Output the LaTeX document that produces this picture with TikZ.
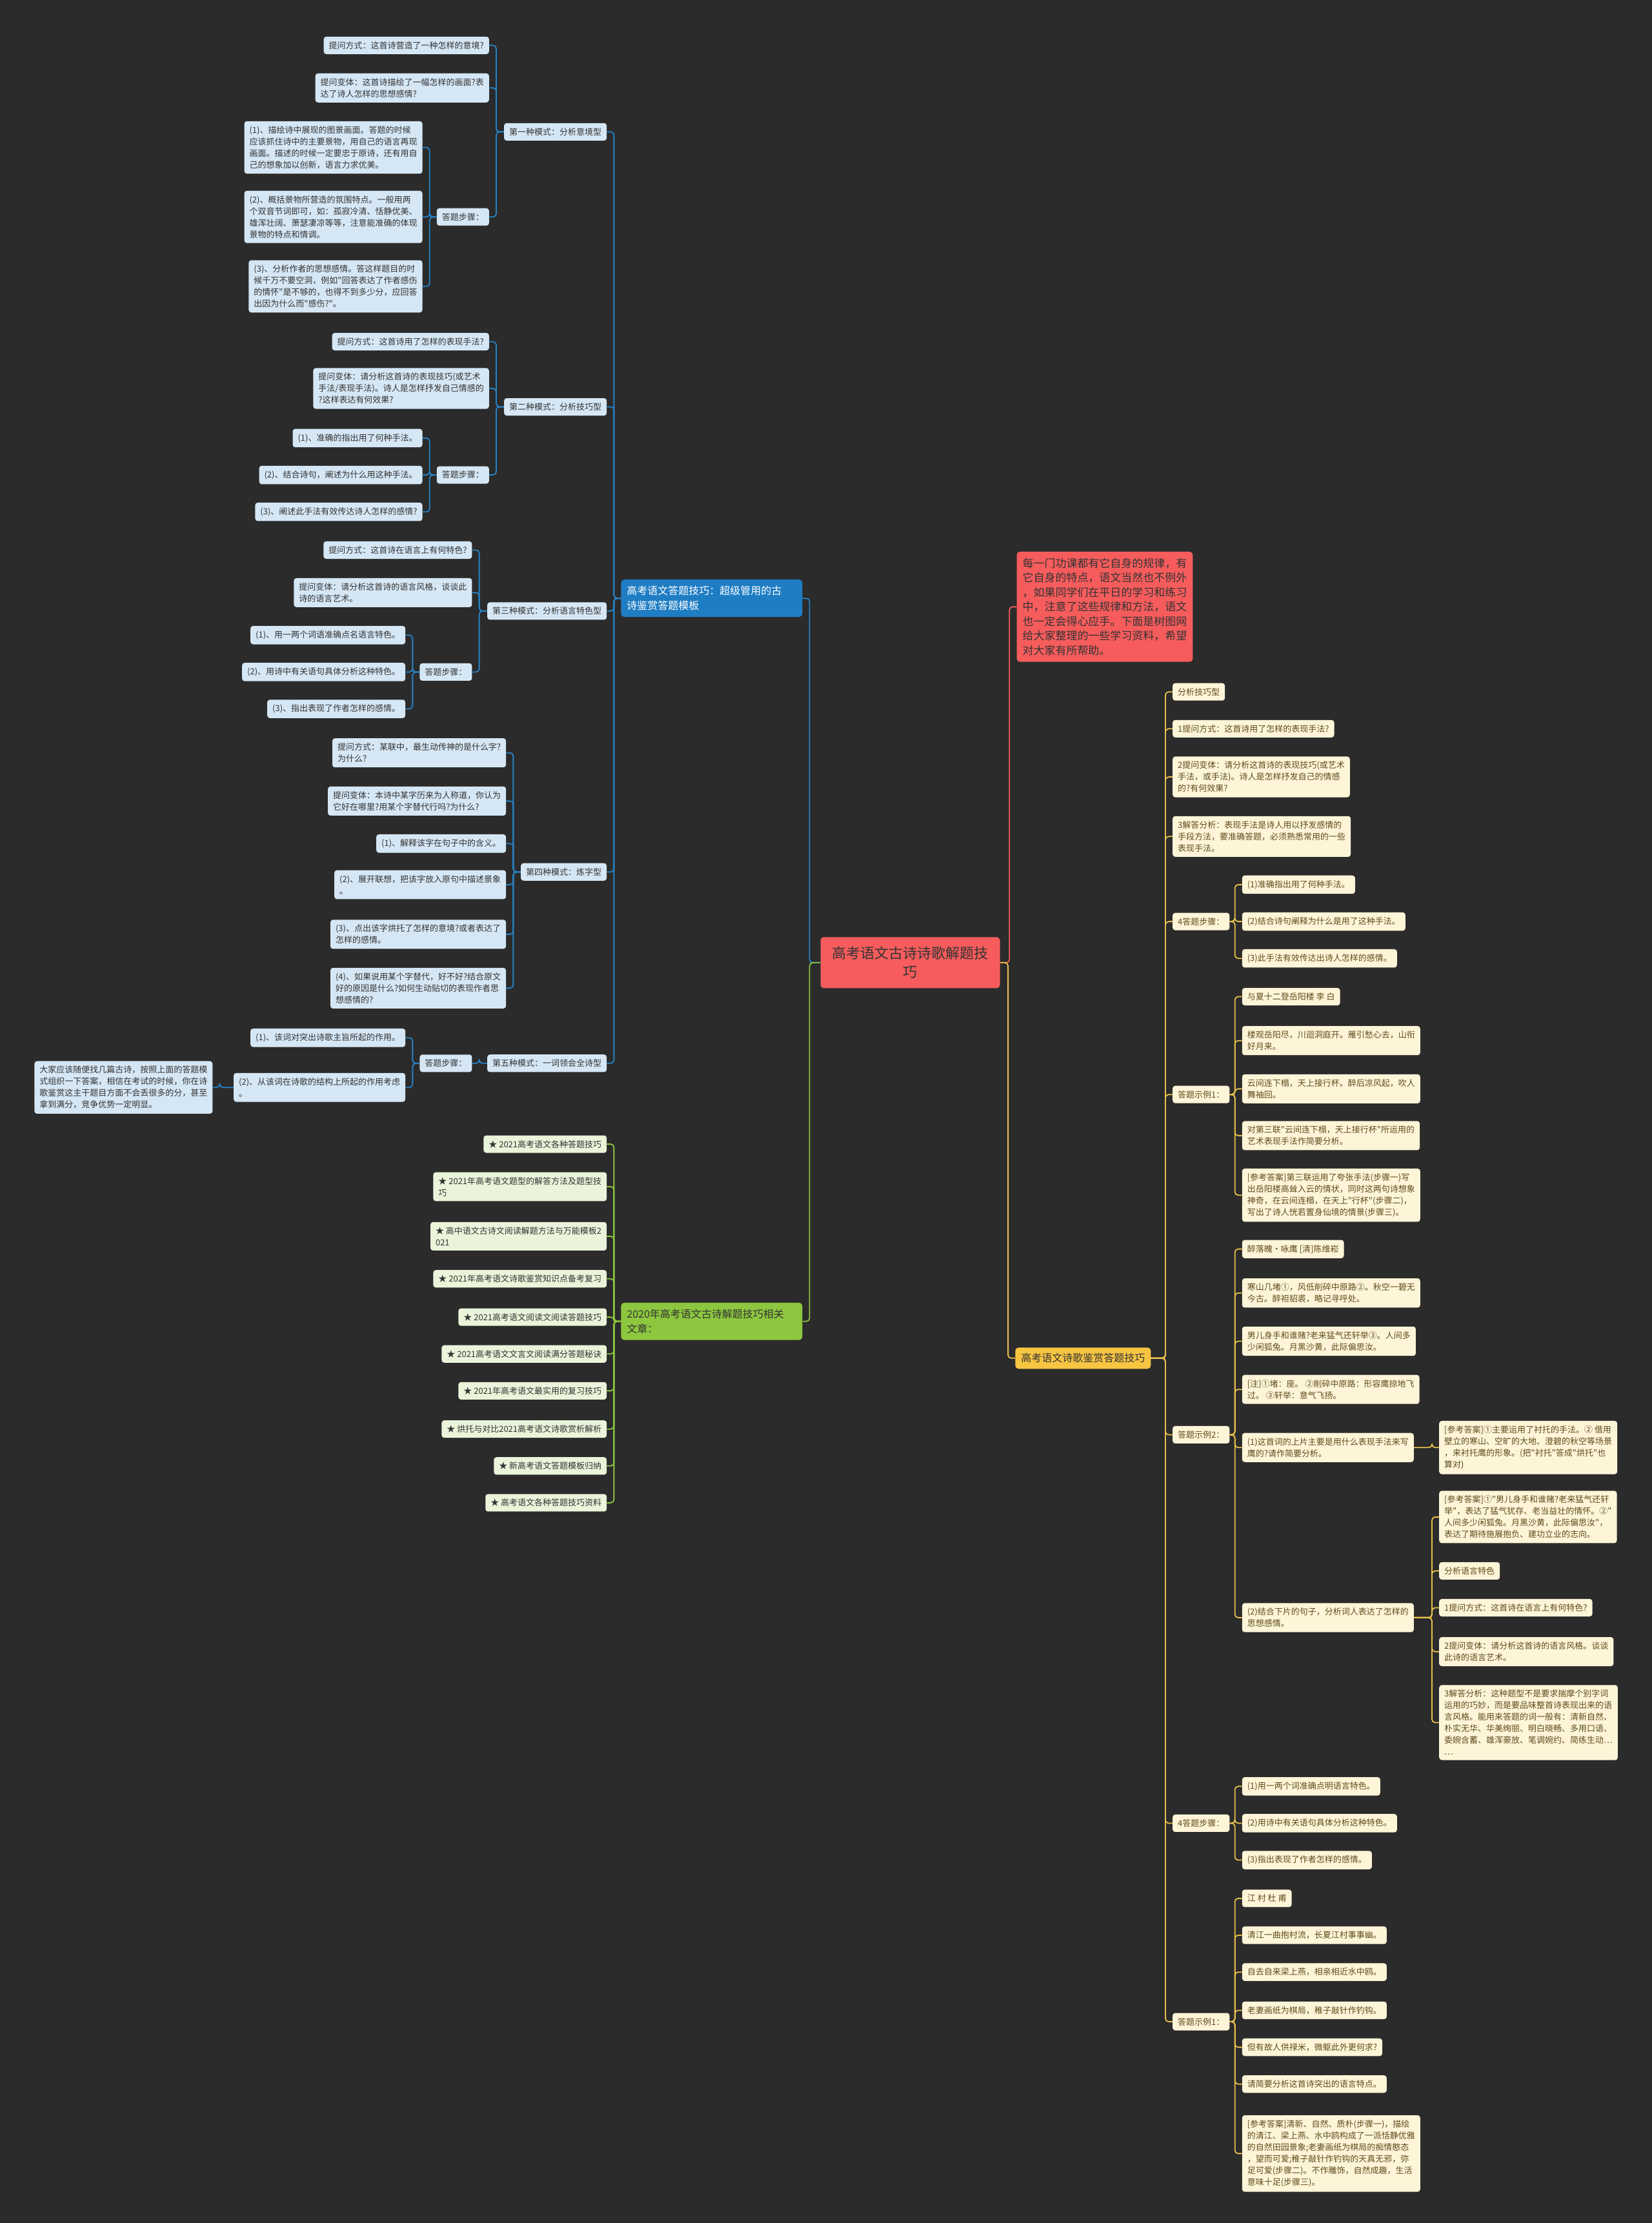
\documentclass[tikz,border=0pt]{standalone}
\usepackage{fontspec}
\setmainfont{Noto Sans CJK SC}[Ligatures=TeXOff]

\definecolor{Canvas}{HTML}{2B2B2B}
\definecolor{Ink}{HTML}{333333}
\definecolor{BlueMain}{HTML}{1F7DC4}
\definecolor{BlueLeaf}{HTML}{D5E7F5}
\definecolor{BlueLine}{HTML}{2784C7}
\definecolor{RootRed}{HTML}{F65C5C}
\definecolor{GreenMain}{HTML}{8DC73F}
\definecolor{GreenLeaf}{HTML}{EAF4DA}
\definecolor{OrangeMain}{HTML}{F8C543}
\definecolor{YellowLeaf}{HTML}{FEF5D8}
\definecolor{YellowLine}{HTML}{E7C04E}
\definecolor{YellowInk}{HTML}{5E4B1C}

\begin{document}
\begin{tikzpicture}
  [x=2.1974pt, y=-2.1974pt,
   box/.style={rounded corners=4pt, inner xsep=8pt, inner ysep=7.5pt, align=left,
     font=\fontsize{13}{18}\selectfont},
   blue leaf/.style={box, fill=BlueLeaf, text=Ink, anchor=east},
   green leaf/.style={box, fill=GreenLeaf, text=Ink, anchor=east},
   yellow leaf/.style={box, fill=YellowLeaf, text=YellowInk, anchor=west},
   branch/.style={rounded corners=5pt, inner xsep=9pt, inner ysep=10pt, align=left,
     font=\fontsize{16}{23}\selectfont},
   to left/.style={to path={-| ([xshift=11pt]\tikztotarget) -- (\tikztotarget)}},
   to right/.style={to path={-| ([xshift=-11pt]\tikztotarget) -- (\tikztotarget)}},
   link/.style={line width=1.8pt, rounded corners=5pt},
   blue edge/.style={link, draw=BlueLine, to left},
   green edge/.style={link, draw=GreenMain, to left},
   red edge/.style={link, draw=RootRed, to right},
   gold edge/.style={link, draw=YellowLine, to right}]

  \fill [Canvas] (0,0) rectangle (1165,1568);
  \useasboundingbox (0,0) rectangle (1165,1568);

  % root
  \node [branch, fill=RootRed, text=Ink, align=center, inner xsep=18pt, inner ysep=15pt,
         font=\fontsize{22}{29}\selectfont] (root) at (642,679) {高考语文古诗诗歌解题技\\巧};

  % left: answer templates
  \node [branch, fill=BlueMain, text=white, anchor=east, text width=263pt] (tpl) at (566,422)
        {高考语文答题技巧：超级管用的古\\诗鉴赏答题模板};

  \node [blue leaf] (m1) at (428,93) {第一种模式：分析意境型};
  \node [blue leaf] (m1q) at (345,32) {提问方式：这首诗营造了一种怎样的意境?};
  \node [blue leaf] (m1v) at (345,62) {提问变体：这首诗描绘了一幅怎样的画面?表\\达了诗人怎样的思想感情?};
  \node [blue leaf] (m1s) at (345,153) {答题步骤：};
  \node [blue leaf] (m1s1) at (298,104) {(1)、描绘诗中展现的图景画面。答题的时候\\应该抓住诗中的主要景物，用自己的语言再现\\画面。描述的时候一定要忠于原诗，还有用自\\己的想象加以创新，语言力求优美。};
  \node [blue leaf] (m1s2) at (298,153) {(2)、概括景物所营造的氛围特点。一般用两\\个双音节词即可，如：孤寂冷清、恬静优美、\\雄浑壮阔、萧瑟凄凉等等，注意能准确的体现\\景物的特点和情调。};
  \node [blue leaf] (m1s3) at (298,202) {(3)、分析作者的思想感情。答这样题目的时\\候千万不要空洞，例如"回答表达了作者感伤\\的情怀"是不够的，也得不到多少分，应回答\\出因为什么而"感伤?"。};

  \node [blue leaf] (m2) at (428,287) {第二种模式：分析技巧型};
  \node [blue leaf] (m2q) at (345,241) {提问方式：这首诗用了怎样的表现手法?};
  \node [blue leaf] (m2v) at (345,274) {提问变体：请分析这首诗的表现技巧(或艺术\\手法/表现手法)。诗人是怎样抒发自己情感的\\?这样表达有何效果?};
  \node [blue leaf] (m2s) at (345,335) {答题步骤：};
  \node [blue leaf] (m2s1) at (298,309) {(1)、准确的指出用了何种手法。};
  \node [blue leaf] (m2s2) at (298,335) {(2)、结合诗句，阐述为什么用这种手法。};
  \node [blue leaf] (m2s3) at (298,361) {(3)、阐述此手法有效传达诗人怎样的感情?};

  \node [blue leaf] (m3) at (428,431) {第三种模式：分析语言特色型};
  \node [blue leaf] (m3q) at (333,388) {提问方式：这首诗在语言上有何特色?};
  \node [blue leaf] (m3v) at (333,418) {提问变体：请分析这首诗的语言风格，谈谈此\\诗的语言艺术。};
  \node [blue leaf] (m3s) at (333,474) {答题步骤：};
  \node [blue leaf] (m3s1) at (286,448) {(1)、用一两个词语准确点名语言特色。};
  \node [blue leaf] (m3s2) at (286,474) {(2)、用诗中有关语句具体分析这种特色。};
  \node [blue leaf] (m3s3) at (286,500) {(3)、指出表现了作者怎样的感情。};

  \node [blue leaf] (m4) at (428,615) {第四种模式：炼字型};
  \node [blue leaf] (m4q) at (357,531) {提问方式：某联中，最生动传神的是什么字?\\为什么?};
  \node [blue leaf] (m4v) at (357,565) {提问变体：本诗中某字历来为人称道，你认为\\它好在哪里?用某个字替代行吗?为什么?};
  \node [blue leaf] (m4a) at (357,595) {(1)、解释该字在句子中的含义。};
  \node [blue leaf] (m4b) at (357,624) {(2)、展开联想，把该字放入原句中描述景象\\。};
  \node [blue leaf] (m4c) at (357,659) {(3)、点出该字烘托了怎样的意境?或者表达了\\怎样的感情。};
  \node [blue leaf] (m4d) at (357,697) {(4)、如果说用某个字替代，好不好?结合原文\\好的原因是什么?如何生动贴切的表现作者思\\想感情的?};

  \node [blue leaf] (m5) at (428,750) {第五种模式：一词领会全诗型};
  \node [blue leaf] (m5s) at (333,750) {答题步骤：};
  \node [blue leaf] (m5s1) at (286,732) {(1)、该词对突出诗歌主旨所起的作用。};
  \node [blue leaf] (m5s2) at (286,767) {(2)、从该词在诗歌的结构上所起的作用考虑\\。};
  \node [blue leaf] (m5note) at (150,767) {大家应该随便找几篇古诗，按照上面的答题模\\式组织一下答案，相信在考试的时候，你在诗\\歌鉴赏这主干题目方面不会丢很多的分，甚至\\拿到满分，竞争优势一定明显。};

  % left: related articles
  \node [branch, fill=GreenMain, text=Ink, anchor=east, text width=263pt] (rel) at (566,932)
        {2020年高考语文古诗解题技巧相关\\文章：};
  \node [green leaf] (rel1) at (428,807) {★ 2021高考语文各种答题技巧};
  \node [green leaf] (rel2) at (428,837) {★ 2021年高考语文题型的解答方法及题型技\\巧};
  \node [green leaf] (rel3) at (428,872) {★ 高中语文古诗文阅读解题方法与万能模板2\\021};
  \node [green leaf] (rel4) at (428,902) {★ 2021年高考语文诗歌鉴赏知识点备考复习};
  \node [green leaf] (rel5) at (428,929) {★ 2021高考语文阅读文阅读答题技巧};
  \node [green leaf] (rel6) at (428,955) {★ 2021高考语文文言文阅读满分答题秘诀};
  \node [green leaf] (rel7) at (428,981) {★ 2021年高考语文最实用的复习技巧};
  \node [green leaf] (rel8) at (428,1008) {★ 烘托与对比2021高考语文诗歌赏析解析};
  \node [green leaf] (rel9) at (428,1034) {★ 新高考语文答题模板归纳};
  \node [green leaf] (rel10) at (428,1060) {★ 高考语文各种答题技巧资料};

  % right: intro
  \node [branch, fill=RootRed, text=Ink, anchor=west, font=\fontsize{17}{22.5}\selectfont] (intro) at (717,428)
        {每一门功课都有它自身的规律，有\\它自身的特点，语文当然也不例外\\，如果同学们在平日的学习和练习\\中，注意了这些规律和方法，语文\\也一定会得心应手。下面是树图网\\给大家整理的一些学习资料，希望\\对大家有所帮助。};

  % right: poetry appreciation
  \node [branch, fill=OrangeMain, text=Ink, anchor=west, inner ysep=9pt] (poem) at (716,958) {高考语文诗歌鉴赏答题技巧};

  \node [yellow leaf] (p1) at (827,488) {分析技巧型};
  \node [yellow leaf] (p2) at (827,514) {1提问方式：这首诗用了怎样的表现手法?};
  \node [yellow leaf] (p3) at (827,548) {2提问变体：请分析这首诗的表现技巧(或艺术\\手法，或手法)。诗人是怎样抒发自己的情感\\的?有何效果?};
  \node [yellow leaf] (p4) at (827,590) {3解答分析：表现手法是诗人用以抒发感情的\\手段方法，要准确答题，必须熟悉常用的一些\\表现手法。};
  \node [yellow leaf] (p5) at (827,650) {4答题步骤：};
  \node [yellow leaf] (p5a) at (876,624) {(1)准确指出用了何种手法。};
  \node [yellow leaf] (p5b) at (876,650) {(2)结合诗句阐释为什么是用了这种手法。};
  \node [yellow leaf] (p5c) at (876,676) {(3)此手法有效传达出诗人怎样的感情。};

  \node [yellow leaf] (p6) at (827,772) {答题示例1：};
  \node [yellow leaf] (p6a) at (876,703) {与夏十二登岳阳楼 李 白};
  \node [yellow leaf] (p6b) at (876,734) {楼观岳阳尽，川迴洞庭开。雁引愁心去，山衔\\好月来。};
  \node [yellow leaf] (p6c) at (876,768) {云间连下榻，天上接行杯。醉后凉风起，吹人\\舞袖回。};
  \node [yellow leaf] (p6d) at (876,801) {对第三联"云间连下榻，天上接行杯"所运用的\\艺术表现手法作简要分析。};
  \node [yellow leaf] (p6e) at (876,843) {[参考答案]第三联运用了夸张手法(步骤一)写\\出岳阳楼高耸入云的情状，同时这两句诗想象\\神奇，在云间连榻，在天上"行杯"(步骤二)，\\写出了诗人恍若置身仙境的情景(步骤三)。};

  \node [yellow leaf] (p7) at (827,1012) {答题示例2：};
  \node [yellow leaf] (p7a) at (876,881) {醉落魄·咏鹰 [清]陈维崧};
  \node [yellow leaf] (p7b) at (876,912) {寒山几堵①，风低削碎中原路②。秋空一碧无\\今古。醉袒貂裘，略记寻呼处。};
  \node [yellow leaf] (p7c) at (876,946) {男儿身手和谁赌?老来猛气还轩举③。人间多\\少闲狐兔。月黑沙黄，此际偏思汝。};
  \node [yellow leaf] (p7d) at (876,980) {[注]①堵：座。 ②削碎中原路：形容鹰掠地飞\\过。 ③轩举：意气飞扬。};
  \node [yellow leaf] (p7e) at (876,1021) {(1)这首词的上片主要是用什么表现手法来写\\鹰的?请作简要分析。};
  \node [yellow leaf] (p7e1) at (1015,1021) {[参考答案]①主要运用了衬托的手法。② 借用\\壁立的寒山、空旷的大地、澄碧的秋空等场景\\，来衬托鹰的形象。(把"衬托"答成"烘托"也\\算对)};
  \node [yellow leaf] (p7f) at (876,1141) {(2)结合下片的句子，分析词人表达了怎样的\\思想感情。};
  \node [yellow leaf] (p7f1) at (1015,1070) {[参考答案]①"男儿身手和谁赌?老来猛气还轩\\举"，表达了猛气犹存、老当益壮的情怀。②"\\人间多少闲狐兔。月黑沙黄，此际偏思汝"，\\表达了期待施展抱负、建功立业的志向。};
  \node [yellow leaf] (p7f2) at (1015,1108) {分析语言特色};
  \node [yellow leaf] (p7f3) at (1015,1134) {1提问方式：这首诗在语言上有何特色?};
  \node [yellow leaf] (p7f4) at (1015,1165) {2提问变体：请分析这首诗的语言风格。谈谈\\此诗的语言艺术。};
  \node [yellow leaf] (p7f5) at (1015,1215) {3解答分析：这种题型不是要求揣摩个别字词\\运用的巧妙，而是要品味整首诗表现出来的语\\言风格。能用来答题的词一般有：清新自然、\\朴实无华、华美绚丽、明白晓畅、多用口语、\\委婉含蓄、雄浑豪放、笔调婉约、简练生动…\\…};

  \node [yellow leaf] (p8) at (827,1286) {4答题步骤：};
  \node [yellow leaf] (p8a) at (876,1260) {(1)用一两个词准确点明语言特色。};
  \node [yellow leaf] (p8b) at (876,1286) {(2)用诗中有关语句具体分析这种特色。};
  \node [yellow leaf] (p8c) at (876,1312) {(3)指出表现了作者怎样的感情。};

  \node [yellow leaf] (p9) at (827,1426) {答题示例1：};
  \node [yellow leaf] (p9a) at (876,1339) {江 村 杜 甫};
  \node [yellow leaf] (p9b) at (876,1365) {清江一曲抱村流，长夏江村事事幽。};
  \node [yellow leaf] (p9c) at (876,1391) {自去自来梁上燕，相亲相近水中鸥。};
  \node [yellow leaf] (p9d) at (876,1418) {老妻画纸为棋局，稚子敲针作钓钩。};
  \node [yellow leaf] (p9e) at (876,1444) {但有故人供禄米，微躯此外更何求?};
  \node [yellow leaf] (p9f) at (876,1470) {请简要分析这首诗突出的语言特点。};
  \node [yellow leaf] (p9g) at (876,1519) {[参考答案]清新、自然、质朴(步骤一)，描绘\\的清江、梁上燕、水中鸥构成了一派恬静优雅\\的自然田园景象;老妻画纸为棋局的痴情憨态\\，望而可爱;稚子敲针作钓钩的天真无邪，弥\\足可爱(步骤二)。不作雕饰，自然成趣，生活\\意味十足(步骤三)。};

  % connectors
  \path (root.west) edge [blue edge] (tpl.east)
                    edge [green edge] (rel.east);
  \path (root.east) edge [red edge] (intro.west)
                    edge [gold edge] (poem.west);

  \path (tpl.west) edge [blue edge] (m1.east) edge [blue edge] (m2.east) edge [blue edge] (m3.east)
                   edge [blue edge] (m4.east) edge [blue edge] (m5.east);
  \path (m1.west) edge [blue edge] (m1q.east) edge [blue edge] (m1v.east) edge [blue edge] (m1s.east);
  \path (m1s.west) edge [blue edge] (m1s1.east) edge [blue edge] (m1s2.east) edge [blue edge] (m1s3.east);
  \path (m2.west) edge [blue edge] (m2q.east) edge [blue edge] (m2v.east) edge [blue edge] (m2s.east);
  \path (m2s.west) edge [blue edge] (m2s1.east) edge [blue edge] (m2s2.east) edge [blue edge] (m2s3.east);
  \path (m3.west) edge [blue edge] (m3q.east) edge [blue edge] (m3v.east) edge [blue edge] (m3s.east);
  \path (m3s.west) edge [blue edge] (m3s1.east) edge [blue edge] (m3s2.east) edge [blue edge] (m3s3.east);
  \path (m4.west) edge [blue edge] (m4q.east) edge [blue edge] (m4v.east) edge [blue edge] (m4a.east)
                  edge [blue edge] (m4b.east) edge [blue edge] (m4c.east) edge [blue edge] (m4d.east);
  \path (m5.west) edge [blue edge] (m5s.east);
  \path (m5s.west) edge [blue edge] (m5s1.east) edge [blue edge] (m5s2.east);
  \path (m5s2.west) edge [blue edge] (m5note.east);

  \path (rel.west) edge [green edge] (rel1.east) edge [green edge] (rel2.east) edge [green edge] (rel3.east)
                   edge [green edge] (rel4.east) edge [green edge] (rel5.east) edge [green edge] (rel6.east)
                   edge [green edge] (rel7.east) edge [green edge] (rel8.east) edge [green edge] (rel9.east)
                   edge [green edge] (rel10.east);

  \path (poem.east) edge [gold edge] (p1.west) edge [gold edge] (p2.west) edge [gold edge] (p3.west)
                    edge [gold edge] (p4.west) edge [gold edge] (p5.west) edge [gold edge] (p6.west)
                    edge [gold edge] (p7.west) edge [gold edge] (p8.west) edge [gold edge] (p9.west);
  \path (p5.east) edge [gold edge] (p5a.west) edge [gold edge] (p5b.west) edge [gold edge] (p5c.west);
  \path (p6.east) edge [gold edge] (p6a.west) edge [gold edge] (p6b.west) edge [gold edge] (p6c.west)
                  edge [gold edge] (p6d.west) edge [gold edge] (p6e.west);
  \path (p7.east) edge [gold edge] (p7a.west) edge [gold edge] (p7b.west) edge [gold edge] (p7c.west)
                  edge [gold edge] (p7d.west) edge [gold edge] (p7e.west) edge [gold edge] (p7f.west);
  \path (p7e.east) edge [gold edge] (p7e1.west);
  \path (p7f.east) edge [gold edge] (p7f1.west) edge [gold edge] (p7f2.west) edge [gold edge] (p7f3.west)
                   edge [gold edge] (p7f4.west) edge [gold edge] (p7f5.west);
  \path (p8.east) edge [gold edge] (p8a.west) edge [gold edge] (p8b.west) edge [gold edge] (p8c.west);
  \path (p9.east) edge [gold edge] (p9a.west) edge [gold edge] (p9b.west) edge [gold edge] (p9c.west)
                  edge [gold edge] (p9d.west) edge [gold edge] (p9e.west) edge [gold edge] (p9f.west)
                  edge [gold edge] (p9g.west);
\end{tikzpicture}
\end{document}
